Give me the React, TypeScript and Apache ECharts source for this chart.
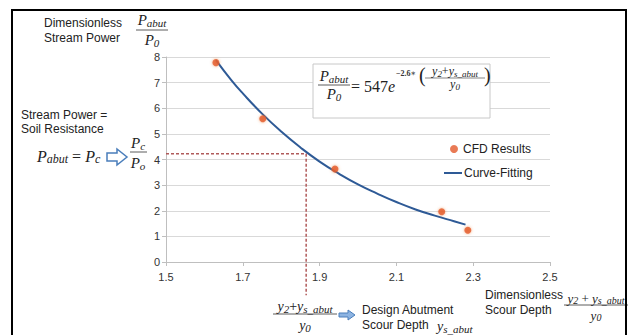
import React, { useEffect, useRef } from "react";
import * as echarts from "echarts";

const cfdX = [1.63, 1.752, 1.94, 2.218, 2.286];
const cfdY = [7.78, 5.59, 3.63, 1.96, 1.24];
const fitX = [1.63, 1.67, 1.7, 1.75, 1.8, 1.85, 1.9, 1.95, 2.0, 2.05, 2.1, 2.15, 2.2, 2.25, 2.28];
const fitY = [7.88, 7.1, 6.58, 5.79, 5.09, 4.47, 3.92, 3.45, 3.03, 2.67, 2.34, 2.05, 1.81, 1.59, 1.46];
const designX = 1.865;
const designY = 4.22;
const xTicks = { min: 1.5, max: 2.5, step: 0.2 };
const yTicks = { min: 0, max: 8, step: 1 };

const SANS = "Liberation Sans, Arial, sans-serif";
const SERIF = "Liberation Serif, DejaVu Serif, serif";

const mathRich = (size: number, ratio = 0.72) => ({
  i: { fontFamily: SERIF, fontStyle: "italic", fontSize: size, lineHeight: size + 2, fill: "#222" },
  s: { fontFamily: SERIF, fontStyle: "italic", fontSize: Math.round(size * ratio), lineHeight: Math.round(size * 0.6), verticalAlign: "bottom", fill: "#222" },
  n: { fontFamily: SERIF, fontSize: size, lineHeight: size + 2, fill: "#222" },
});

const mtext = (x: number, y: number, text: string, size: number, align = "center", ratio = 0.72) => ({
  type: "text",
  x,
  y,
  style: { text, rich: mathRich(size, ratio), align, verticalAlign: "middle", fill: "#222" },
});

const hline = (x1: number, x2: number, y: number, w = 0.8) => ({
  type: "line",
  shape: { x1, y1: y, x2, y2: y },
  style: { stroke: "#333", lineWidth: w },
});

const stext = (x: number, y: number, text: string, size = 12) => ({
  type: "text",
  x,
  y,
  style: { text, fontFamily: SANS, fontSize: size, fill: "#222", lineHeight: 15, verticalAlign: "middle" },
});

export default function App() {
  const ref = useRef<HTMLDivElement>(null);
  useEffect(() => {
    const chart = echarts.init(ref.current!, null, { renderer: "svg" });
    const graphic: any[] = [
      { type: "rect", shape: { x: 12, y: 10, width: 614, height: 340 }, style: { fill: "none", stroke: "#000", lineWidth: 2 }, z: 100 },
      // top-left
      stext(44, 23, "Dimensionless"),
      stext(44, 38, "Stream Power"),
      mtext(152, 20, "{i|P}{s|abut}", 15),
      hline(136, 168, 30),
      mtext(152, 40, "{i|P}{s|0}", 15),
      // left
      stext(21, 115, "Stream Power ="),
      stext(21, 129, "Soil Resistance"),
      mtext(37, 156, "{i|P}{s|abut}{n| = }{i|P}{s|c}", 16, "left"),
      {
        type: "polygon",
        shape: { points: [[107, 153], [117, 153], [117, 149], [127, 157], [117, 165], [117, 161], [107, 161]] },
        style: { fill: "#fff", stroke: "#4a7ebb", lineWidth: 1.5 },
      },
      mtext(138, 143, "{i|P}{s|c}", 15),
      hline(130, 147, 152),
      mtext(138, 163, "{i|P}{s|o}", 15),
      // formula box
      { type: "rect", shape: { x: 313, y: 64, width: 177, height: 54 }, style: { fill: "#fff", stroke: "#c8c8c8", lineWidth: 1 }, z: 50 },
      { ...mtext(334, 76, "{i|P}{s|abut}", 15), z: 51 },
      { ...hline(318, 350, 85), z: 51 },
      { ...mtext(334, 94, "{i|P}{s|0}", 15), z: 51 },
      { ...mtext(351, 86, "{n|= 547}{i|e}", 16, "left"), z: 51 },
      { type: "text", x: 396, y: 73, z: 51, style: { text: "−2.6∗", fontFamily: SERIF, fontSize: 8, fontWeight: "bold", fill: "#333", verticalAlign: "middle" } },
      { type: "text", x: 419, y: 75, z: 51, style: { text: "(", fontFamily: SERIF, fontSize: 20, fill: "#222", verticalAlign: "middle" } },
      { ...mtext(455, 71, "{i|y}{s|2}{n|+}{i|y}{s|s_abut}", 12, "center", 0.75), z: 51 },
      { ...hline(425, 485, 78, 0.6), z: 51 },
      { ...mtext(455, 84, "{i|y}{s|0}", 12, "center", 0.75), z: 51 },
      { type: "text", x: 484, y: 75, z: 51, style: { text: ")", fontFamily: SERIF, fontSize: 20, fill: "#222", verticalAlign: "middle" } },
      // bottom design label
      mtext(305, 306, "{i|y}{s|2}{n|+}{i|y}{s|s_abut}", 14, "center", 0.75),
      hline(273, 337, 314),
      mtext(305, 325, "{i|y}{s|0}", 14, "center", 0.75),
      {
        type: "polygon",
        shape: { points: [[339, 313], [348, 313], [348, 310], [355, 315], [348, 320], [348, 317], [339, 317]] },
        style: { fill: "#8db4e2", stroke: "#4a7ebb", lineWidth: 1 },
      },
      stext(362, 310, "Design Abutment"),
      stext(362, 325, "Scour Depth"),
      mtext(437, 326, "{i|y}{s|s_abut}", 14, "left", 0.75),
      // right axis label
      stext(485, 295, "Dimensionless"),
      stext(485, 310, "Scour Depth"),
      mtext(596, 298, "{i|y}{s|2}{n| + }{i|y}{s|s_abut}", 13, "center", 0.75),
      hline(564, 628, 305),
      mtext(596, 315, "{i|y}{s|0}", 13, "center", 0.75),
    ];

    chart.setOption({
      animation: false,
      backgroundColor: "#fff",
      grid: { left: 166, right: 85, top: 57, bottom: 73, containLabel: false, outerBoundsMode: "none" },
      xAxis: {
        type: "value",
        min: xTicks.min,
        max: xTicks.max,
        interval: xTicks.step,
        axisLine: { show: true, onZero: false, lineStyle: { color: "#bfbfbf" } },
        axisTick: { show: true, length: 4, lineStyle: { color: "#bfbfbf" } },
        axisLabel: { color: "#333", fontFamily: SANS, fontSize: 11, margin: 9, formatter: (v: number) => v.toFixed(1) },
        splitLine: { show: false },
      },
      yAxis: {
        type: "value",
        min: yTicks.min,
        max: yTicks.max,
        interval: yTicks.step,
        axisLine: { show: true, lineStyle: { color: "#bfbfbf" } },
        axisTick: { show: true, length: 4, lineStyle: { color: "#bfbfbf" } },
        axisLabel: { color: "#333", fontFamily: SANS, fontSize: 11, margin: 6 },
        splitLine: { show: true, lineStyle: { color: "#d9d9d9" } },
      },
      legend: [
        {
          left: 445,
          top: 138,
          itemWidth: 8,
          itemHeight: 8,
          icon: "circle",
          textStyle: { fontFamily: SANS, fontSize: 12, color: "#222" },
          data: ["CFD Results"],
        },
        {
          left: 439,
          top: 162,
          itemWidth: 18,
          itemHeight: 2,
          icon: "rect",
          textStyle: { fontFamily: SANS, fontSize: 12, color: "#222", padding: [0, 0, 0, -3] },
          data: ["Curve-Fitting"],
        },
      ],
      series: [
        {
          name: "design",
          type: "line",
          data: [[xTicks.min, designY], [designX, designY], [designX, -1.3]],
          showSymbol: false,
          symbol: "none",
          clip: false,
          lineStyle: { color: "#b05a5a", width: 1.5, type: [3, 2] },
          z: 1,
        },
        {
          name: "Curve-Fitting",
          type: "line",
          data: fitX.map((x, i) => [x, fitY[i]]),
          smooth: true,
          symbol: "none",
          showSymbol: false,
          lineStyle: { color: "#2e5a96", width: 2 },
          itemStyle: { color: "#2e5a96" },
          z: 3,
        },
        {
          name: "CFD Results",
          type: "scatter",
          data: cfdX.map((x, i) => [x, cfdY[i]]),
          symbolSize: 7,
          itemStyle: { color: "#e3592a", shadowColor: "rgba(240,130,60,0.8)", shadowBlur: 3 },
          z: 4,
        },
      ],
      graphic,
    });
    return () => chart.dispose();
  }, []);
  return <div ref={ref} style={{ position: "fixed", left: 0, top: 0, width: 635, height: 335 }} />;
}
